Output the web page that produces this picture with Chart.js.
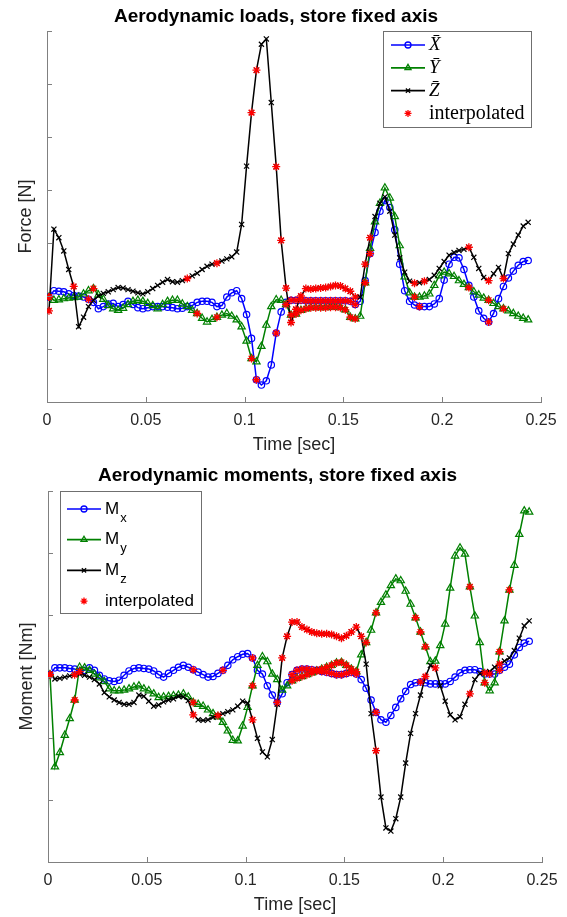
<!DOCTYPE html>
<html>
<head>
<meta charset="utf-8">
<title>Aerodynamic loads and moments, store fixed axis</title>
<script src="https://cdn.jsdelivr.net/npm/chart.js@4.4.0/dist/chart.umd.min.js"></script>
<style>
  html, body { margin: 0; padding: 0; background: #fff; }
  canvas { display: block; }
</style>
</head>
<body>
<canvas id="loadsChart" width="567" height="458"></canvas>
<canvas id="momentsChart" width="567" height="459"></canvas>
<script>
// Sample times [sec]
const TIME = [
  0.001, 0.0035, 0.006, 0.0085, 0.011, 0.0135, 0.016, 0.0185, 0.021, 0.0235,
  0.026, 0.0285, 0.031, 0.0335, 0.036, 0.0385, 0.041, 0.0435, 0.046, 0.0485,
  0.051, 0.0535, 0.056, 0.0585, 0.061, 0.0635, 0.066, 0.0685, 0.071, 0.0735,
  0.076, 0.0785, 0.081, 0.0835, 0.086, 0.0885, 0.091, 0.0935, 0.096, 0.0985,
  0.101, 0.1035, 0.106, 0.1085, 0.111, 0.1135, 0.116, 0.1185, 0.121, 0.1235,
  0.126, 0.1285, 0.131, 0.1335, 0.136, 0.1385, 0.141, 0.1435, 0.146, 0.1485,
  0.151, 0.1535, 0.156, 0.1585, 0.161, 0.1635, 0.166, 0.1685, 0.171, 0.1735,
  0.176, 0.1785, 0.181, 0.1835, 0.186, 0.1885, 0.191, 0.1935, 0.196, 0.1985,
  0.201, 0.2035, 0.206, 0.2085, 0.211, 0.2135, 0.216, 0.2185, 0.221, 0.2235,
  0.226, 0.2285, 0.231, 0.2335, 0.236, 0.2385, 0.241, 0.2435
];
const TIME_TICK_LABELS = ["0", "0.05", "0.1", "0.15", "0.2", "0.25"];

// Aerodynamic loads (axis has no labels, values in tick units)
const FORCE_X = [
  -0.02, 0.1, 0.09, 0.08, 0.04, 0.01, 0.0, -0.02, -0.06, -0.12,
  -0.24, -0.2, -0.15, -0.14, -0.2, -0.16, -0.1, -0.16, -0.22, -0.24,
  -0.22, -0.2, -0.2, -0.2, -0.21, -0.22, -0.24, -0.23, -0.2, -0.18,
  -0.12, -0.1, -0.1, -0.12, -0.2, -0.18, -0.02, 0.06, 0.1, -0.05,
  -0.35, -0.8, -1.58, -1.68, -1.6, -1.3, -0.7, -0.3, -0.12, -0.08,
  -0.08, -0.08, -0.09, -0.09, -0.09, -0.09, -0.09, -0.09, -0.09, -0.09,
  -0.09, -0.1, -0.16, -0.1, 0.29, 0.8, 1.2, 1.6, 1.8, 1.67,
  1.25, 0.6, 0.1, -0.1, -0.17, -0.2, -0.2, -0.2, -0.15, -0.05,
  0.3, 0.6, 0.73, 0.72, 0.5, 0.2, -0.02, -0.28, -0.42, -0.49,
  -0.33, -0.05, 0.18, 0.34, 0.47, 0.58, 0.65, 0.67
];
const FORCE_Y = [
  -0.02, -0.08, -0.07, -0.05, -0.04, -0.03, -0.02, 0.04, 0.1, 0.14,
  0.02, -0.06, -0.18, -0.24, -0.27, -0.23, -0.16, -0.1, -0.08, -0.1,
  -0.14, -0.18, -0.24, -0.16, -0.1, -0.08, -0.08, -0.15, -0.2, -0.27,
  -0.33, -0.42, -0.49, -0.44, -0.4, -0.36, -0.33, -0.38, -0.45, -0.58,
  -0.85, -1.18, -1.24, -0.95, -0.55, -0.2, -0.07, -0.08, -0.16, -0.36,
  -0.34, -0.27, -0.24, -0.22, -0.22, -0.22, -0.22, -0.21, -0.21, -0.22,
  -0.26, -0.4, -0.43, -0.38, 0.25, 0.9, 1.4, 1.75, 2.04, 1.85,
  1.5, 0.95, 0.36, 0.06, -0.02, -0.02, 0.0, 0.04, 0.2, 0.38,
  0.45, 0.42, 0.37, 0.29, 0.22, 0.16, 0.08, 0.02, -0.04, -0.08,
  -0.14, -0.2, -0.24, -0.28, -0.33, -0.38, -0.42, -0.45
];
const FORCE_Z = [
  -0.28, 1.26, 1.1, 0.85, 0.5, 0.18, -0.58, -0.4, -0.2, -0.08,
  0.0, 0.05, 0.08, 0.12, 0.16, 0.15, 0.12, 0.09, 0.06, 0.04,
  0.08, 0.14, 0.2, 0.26, 0.31, 0.27, 0.26, 0.29, 0.33, 0.38,
  0.43, 0.5, 0.56, 0.6, 0.62, 0.66, 0.7, 0.74, 0.83, 1.35,
  2.45, 3.46, 4.26, 4.75, 4.85, 3.65, 2.44, 1.05, 0.15, -0.5,
  -0.25, 0.0, 0.14, 0.13, 0.14, 0.15, 0.16, 0.18, 0.2, 0.19,
  0.14, 0.09, -0.02, -0.02, 0.6, 1.1, 1.5, 1.75, 1.87, 1.6,
  1.15, 0.72, 0.45, 0.28, 0.24, 0.25, 0.28, 0.31, 0.39, 0.52,
  0.65, 0.77, 0.82, 0.86, 0.88, 0.92, 0.73, 0.52, 0.35, 0.29,
  0.42, 0.54, 0.33, 0.8, 0.98, 1.15, 1.32, 1.39
];

// Aerodynamic moments
const MOMENT_X = [
  0.03, 0.14, 0.14, 0.14, 0.13, 0.12, 0.08, 0.1, 0.14, 0.1,
  0.02, -0.04, -0.07, -0.08, -0.06, 0.02, 0.09, 0.13, 0.14, 0.13,
  0.12, 0.09, 0.03, -0.01, 0.05, 0.1, 0.15, 0.18, 0.15, 0.11,
  0.07, 0.03, -0.01, 0.0, 0.05, 0.1, 0.18, 0.27, 0.32, 0.36,
  0.37, 0.3, 0.1, 0.04, -0.15, -0.3, -0.42, -0.28, -0.1, 0.03,
  0.1, 0.12, 0.12, 0.11, 0.1, 0.08, 0.07, 0.05, 0.03, 0.03,
  0.05, 0.07, 0.04, -0.05, -0.19, -0.38, -0.58, -0.7, -0.74, -0.63,
  -0.5, -0.36, -0.24, -0.13, -0.1, -0.09, -0.1, -0.12, -0.12, -0.12,
  -0.12, -0.08, -0.01, 0.06, 0.1, 0.11, 0.11, 0.08, 0.04, 0.04,
  0.04, 0.1, 0.15, 0.2, 0.35, 0.47, 0.54, 0.57
];
const MOMENT_Y = [
  0.03, -1.46, -1.23, -0.95, -0.68, -0.38, 0.15, 0.14, 0.1, 0.04,
  -0.02, -0.08, -0.2, -0.23, -0.23, -0.22, -0.2, -0.17, -0.15, -0.2,
  -0.23, -0.28, -0.34, -0.33, -0.32, -0.31, -0.3, -0.28, -0.33, -0.42,
  -0.45, -0.48, -0.54, -0.6, -0.65, -0.74, -0.88, -1.03, -1.04, -0.8,
  -0.5, -0.15, 0.18, 0.32, 0.24, 0.04, -0.05, -0.22, -0.15, -0.07,
  -0.03, 0.0, 0.03, 0.06, 0.09, 0.12, 0.15, 0.18, 0.22, 0.23,
  0.18, 0.12, 0.08, 0.35, 0.55, 0.75, 1.03, 1.2, 1.32, 1.47,
  1.58, 1.55, 1.38, 1.17, 0.95, 0.72, 0.48, 0.24, 0.25, 0.5,
  0.85, 1.43, 1.95, 2.08, 1.98, 1.45, 0.98, 0.55, -0.1, -0.23,
  -0.1, 0.4, 0.9, 1.4, 1.8, 2.3, 2.68, 2.66
];
const MOMENT_Z = [
  0.03, -0.04, -0.03, -0.01, 0.01, 0.03, 0.04, 0.02, -0.01, -0.05,
  -0.12, -0.26, -0.33, -0.38, -0.42, -0.45, -0.45, -0.42, -0.3, -0.32,
  -0.4, -0.48, -0.46, -0.41, -0.38, -0.36, -0.32, -0.33, -0.39, -0.62,
  -0.7, -0.71, -0.7, -0.66, -0.63, -0.6, -0.57, -0.54, -0.48, -0.4,
  -0.43, -0.7, -1.0, -1.22, -1.3, -1.02, -0.45, 0.3, 0.65, 0.88,
  0.88, 0.8, 0.76, 0.72, 0.7, 0.69, 0.69, 0.68, 0.65, 0.62,
  0.66, 0.72, 0.8, 0.65, 0.2, -0.6, -1.2, -1.95, -2.45, -2.5,
  -2.3, -1.95, -1.4, -0.92, -0.6, -0.3, 0.0, 0.18, 0.14, -0.15,
  -0.4, -0.62, -0.7, -0.65, -0.45, -0.28, -0.05, 0.05, 0.06, 0.08,
  0.15, 0.2, 0.25, 0.3, 0.42, 0.62, 0.82, 0.9
];

// Sample indexes that were interpolated (red stars)
const FORCE_X_INTERP = [0, 8, 42, 46, 49, 50, 51, 52, 53, 54, 55, 56, 57, 58, 59, 60, 61, 62, 65, 75, 89];
const FORCE_Y_INTERP = [0, 9, 30, 34, 41, 48, 49, 50, 51, 52, 53, 54, 55, 56, 57, 58, 59, 60, 61, 62, 64, 74, 85, 89, 92];
const FORCE_Z_INTERP = [0, 5, 28, 34, 41, 42, 46, 47, 48, 49, 50, 51, 52, 53, 54, 55, 56, 57, 58, 59, 60, 61, 62, 64, 65, 74, 76, 85, 89, 92];
const MOMENT_X_INTERP = [0, 6, 29, 35, 41, 46, 49, 50, 51, 52, 53, 54, 55, 56, 57, 58, 59, 60, 61, 62, 66, 75, 89, 91];
const MOMENT_Y_INTERP = [0, 5, 29, 41, 49, 50, 51, 52, 53, 54, 55, 56, 57, 58, 59, 60, 61, 62, 64, 66, 74, 75, 76, 85, 88, 91, 93];
const MOMENT_Z_INTERP = [0, 5, 29, 34, 41, 47, 48, 49, 50, 51, 52, 53, 54, 55, 56, 57, 58, 59, 60, 61, 62, 63, 66, 76, 78, 85, 88, 91];

const FONT_SANS = "'Liberation Sans', Arial, Helvetica, sans-serif";
const FONT_SERIF = "'Liberation Serif', 'Times New Roman', serif";
const AXIS_COLOR = "#808080";
const TEXT_COLOR = "#262626";
const BLUE = "#0000ff";
const GREEN = "#008000";
const BLACK = "#000000";
const RED = "#ff0000";
const TICK_LEN = 5;

function toPoints(values) {
  return values.map((v, i) => ({ x: TIME[i], y: v }));
}

function pickPoints(values, indexes) {
  return indexes.map((i) => ({ x: TIME[i], y: values[i] }));
}

function lineSeries(label, values, color, style, radius, order) {
  return {
    label: label,
    data: toPoints(values),
    borderColor: color,
    borderWidth: 1.5,
    pointStyle: style,
    pointRadius: radius,
    pointBorderColor: color,
    pointBackgroundColor: "rgba(0,0,0,0)",
    pointBorderWidth: 1.2,
    tension: 0,
    order: order,
  };
}

function starSeries(points) {
  return {
    label: "interpolated",
    data: points,
    showLine: false,
    pointStyle: "star",
    pointRadius: 4,
    pointBorderColor: RED,
    pointBackgroundColor: RED,
    pointBorderWidth: 1.3,
    order: 0,
  };
}

// marker shapes for the legend box
function drawMarker(ctx, style, x, y, r, color) {
  ctx.save();
  ctx.strokeStyle = color;
  ctx.lineWidth = 1.3;
  ctx.beginPath();
  if (style === "circle") {
    ctx.arc(x, y, r, 0, Math.PI * 2);
  } else if (style === "triangle") {
    ctx.moveTo(x, y - r);
    ctx.lineTo(x + r * 0.866, y + r * 0.5);
    ctx.lineTo(x - r * 0.866, y + r * 0.5);
    ctx.closePath();
  } else {
    const d = r * 0.7071;
    ctx.moveTo(x - d, y - d); ctx.lineTo(x + d, y + d);
    ctx.moveTo(x + d, y - d); ctx.lineTo(x - d, y + d);
    if (style === "star") {
      ctx.moveTo(x, y - r); ctx.lineTo(x, y + r);
      ctx.moveTo(x - r, y); ctx.lineTo(x + r, y);
    }
  }
  ctx.stroke();
  ctx.restore();
}

// MATLAB style ticks pointing into the axes
const inwardTicks = {
  id: "inwardTicks",
  afterDatasetsDraw(chart) {
    const { ctx, chartArea, scales } = chart;
    ctx.save();
    ctx.strokeStyle = AXIS_COLOR;
    ctx.lineWidth = 1;
    ctx.beginPath();
    scales.x.ticks.forEach((t) => {
      const px = Math.round(scales.x.getPixelForValue(t.value)) + 0.5;
      ctx.moveTo(px, chartArea.bottom);
      ctx.lineTo(px, chartArea.bottom - TICK_LEN);
    });
    scales.y.ticks.forEach((t) => {
      const py = Math.round(scales.y.getPixelForValue(t.value)) + 0.5;
      ctx.moveTo(chartArea.left, py);
      ctx.lineTo(chartArea.left + TICK_LEN, py);
    });
    ctx.stroke();
    ctx.restore();
  },
};

// legend box drawn inside the axes
const boxLegend = {
  id: "boxLegend",
  afterDatasetsDraw(chart, args, opts) {
    if (!opts || !opts.items) return;
    const { ctx, chartArea } = chart;
    const x = Math.round(opts.anchor === "right"
      ? chartArea.right - opts.inset - opts.width
      : chartArea.left + opts.inset);
    const y = Math.round(chartArea.top);
    ctx.save();
    ctx.fillStyle = "#ffffff";
    ctx.fillRect(x, y, opts.width, opts.height);
    ctx.strokeStyle = "#6f6f6f";
    ctx.lineWidth = 1;
    ctx.strokeRect(x + 0.5, y + 0.5, opts.width, opts.height);

    opts.items.forEach((item, i) => {
      const ry = y + opts.firstRow + i * opts.rowGap;
      const lx = x + opts.lineLeft;
      if (item.line) {
        ctx.strokeStyle = item.color;
        ctx.lineWidth = 1.7;
        ctx.beginPath();
        ctx.moveTo(lx, ry);
        ctx.lineTo(lx + opts.lineLength, ry);
        ctx.stroke();
      }
      drawMarker(ctx, item.marker, lx + opts.lineLength / 2, ry, item.radius, item.color);

      const tx = x + opts.textLeft;
      ctx.fillStyle = "#000000";
      ctx.textAlign = "left";
      ctx.textBaseline = "middle";
      ctx.font = item.font;
      ctx.fillText(item.text, tx, ry);
      if (item.sub) {
        const w = ctx.measureText(item.text).width;
        ctx.font = item.subFont;
        ctx.fillText(item.sub, tx + w + 1, ry + opts.subShift);
      }
    });
    ctx.restore();
  },
};

function chartOptions(cfg) {
  return {
    responsive: false,
    animation: false,
    devicePixelRatio: 1,
    layout: { padding: cfg.padding },
    plugins: {
      legend: { display: false },
      tooltip: { enabled: false },
      title: {
        display: true,
        text: cfg.title,
        color: "#000000",
        font: { family: FONT_SANS, size: 19, weight: "bold" },
        padding: cfg.titlePadding,
      },
      boxLegend: cfg.legend,
    },
    scales: {
      x: {
        type: "linear",
        min: 0,
        max: 0.25,
        ticks: {
          stepSize: 0.05,
          padding: 9.4,
          color: TEXT_COLOR,
          font: { family: FONT_SANS, size: 16 },
          callback: (value, index) => TIME_TICK_LABELS[index],
        },
        grid: { display: true, drawOnChartArea: false, drawTicks: false, tickLength: 0 },
        border: { display: true, color: AXIS_COLOR, width: 1 },
        title: {
          display: true,
          text: "Time [sec]",
          color: TEXT_COLOR,
          font: { family: FONT_SANS, size: 18 },
          padding: cfg.xTitlePadding,
        },
      },
      y: {
        min: cfg.yMin,
        max: cfg.yMax,
        ticks: { stepSize: 1, display: false },
        grid: { display: true, drawOnChartArea: false, drawTicks: false, tickLength: 0 },
        border: { display: true, color: AXIS_COLOR, width: 1 },
        title: {
          display: true,
          text: cfg.yTitle,
          color: TEXT_COLOR,
          font: { family: FONT_SANS, size: 18 },
          padding: cfg.yTitlePadding,
        },
      },
    },
  };
}

new Chart(document.getElementById("loadsChart"), {
  type: "line",
  data: {
    datasets: [
      lineSeries("X", FORCE_X, BLUE, "circle", 3.2, 3),
      lineSeries("Y", FORCE_Y, GREEN, "triangle", 4.2, 2),
      lineSeries("Z", FORCE_Z, BLACK, "crossRot", 3.6, 1),
      starSeries(pickPoints(FORCE_X, FORCE_X_INTERP)
        .concat(pickPoints(FORCE_Y, FORCE_Y_INTERP))
        .concat(pickPoints(FORCE_Z, FORCE_Z_INTERP))),
    ],
  },
  options: chartOptions({
    title: "Aerodynamic loads, store fixed axis",
    titlePadding: { top: 5.6, bottom: 2.6 },
    padding: { left: 11, right: 26, top: 0, bottom: 0 },
    xTitlePadding: { top: -5.6, bottom: 2 },
    yTitlePadding: { top: 4.2, bottom: 10.2 },
    yTitle: "Force [N]",
    yMin: -2,
    yMax: 5,
    legend: {
      anchor: "right", inset: 10, width: 148, height: 96,
      firstRow: 14, rowGap: 22.8, lineLeft: 8, lineLength: 34, textLeft: 46,
      items: [
        { text: "X\u0304", font: "italic 19px " + FONT_SERIF, color: BLUE, marker: "circle", radius: 3, line: true },
        { text: "Y\u0304", font: "italic 19px " + FONT_SERIF, color: GREEN, marker: "triangle", radius: 3.5, line: true },
        { text: "Z\u0304", font: "italic 19px " + FONT_SERIF, color: BLACK, marker: "crossRot", radius: 3, line: true },
        { text: "interpolated", font: "20px " + FONT_SERIF, color: RED, marker: "star", radius: 3.5, line: false },
      ],
    },
  }),
  plugins: [inwardTicks, boxLegend],
});

new Chart(document.getElementById("momentsChart"), {
  type: "line",
  data: {
    datasets: [
      lineSeries("Mx", MOMENT_X, BLUE, "circle", 3.2, 3),
      lineSeries("My", MOMENT_Y, GREEN, "triangle", 4.2, 2),
      lineSeries("Mz", MOMENT_Z, BLACK, "crossRot", 3.6, 1),
      starSeries(pickPoints(MOMENT_X, MOMENT_X_INTERP)
        .concat(pickPoints(MOMENT_Y, MOMENT_Y_INTERP))
        .concat(pickPoints(MOMENT_Z, MOMENT_Z_INTERP))),
    ],
  },
  options: chartOptions({
    title: "Aerodynamic moments, store fixed axis",
    titlePadding: { top: 6.8, bottom: 3.4 },
    padding: { left: 12, right: 24, top: 0, bottom: 0 },
    xTitlePadding: { top: -6.1, bottom: 1.5 },
    yTitlePadding: { top: 4, bottom: 10.4 },
    yTitle: "Moment [Nm]",
    yMin: -3,
    yMax: 3,
    legend: {
      anchor: "left", inset: 12, width: 141, height: 122,
      firstRow: 18, rowGap: 30.7, lineLeft: 7, lineLength: 34, textLeft: 45, subShift: 9,
      items: [
        { text: "M", sub: "x", font: "17px " + FONT_SANS, subFont: "13px " + FONT_SANS, color: BLUE, marker: "circle", radius: 3, line: true },
        { text: "M", sub: "y", font: "17px " + FONT_SANS, subFont: "13px " + FONT_SANS, color: GREEN, marker: "triangle", radius: 3.5, line: true },
        { text: "M", sub: "z", font: "17px " + FONT_SANS, subFont: "13px " + FONT_SANS, color: BLACK, marker: "crossRot", radius: 3, line: true },
        { text: "interpolated", font: "17px " + FONT_SANS, color: RED, marker: "star", radius: 3.5, line: false },
      ],
    },
  }),
  plugins: [inwardTicks, boxLegend],
});
</script>
</body>
</html>
